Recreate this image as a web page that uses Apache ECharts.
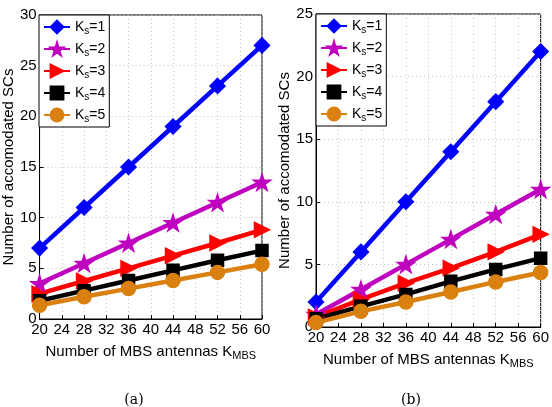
<!DOCTYPE html>
<html>
<head>
<meta charset="utf-8">
<script src="https://cdn.jsdelivr.net/npm/echarts@6/dist/echarts.min.js"></script>
<style>
  html, body { margin: 0; padding: 0; background: #fff; }
  #main { width: 552px; height: 407px; }
</style>
</head>
<body>
<div id="main"></div>
<script>
// antenna counts K_MBS
const antennas = [20, 28, 36, 44, 52, 60];
const seriesNames = ['Ks=1', 'Ks=2', 'Ks=3', 'Ks=4', 'Ks=5'];

// (a)
const aKs1 = [7, 11, 15, 19, 23, 27];
const aKs2 = [3.5, 5.5, 7.5, 9.5, 11.5, 13.5];
const aKs3 = [2.5, 3.75, 5, 6.25, 7.5, 8.8];
const aKs4 = [1.8, 2.8, 3.8, 4.8, 5.8, 6.75];
const aKs5 = [1.35, 2.2, 3, 3.8, 4.6, 5.4];

// (b)
const bKs1 = [2, 6, 10, 14, 18, 22];
const bKs2 = [1, 3, 5, 7, 9, 11];
const bKs3 = [0.8, 2.2, 3.5, 4.7, 6, 7.4];
const bKs4 = [0.65, 1.65, 2.6, 3.65, 4.6, 5.5];
const bKs5 = [0.35, 1.25, 2, 2.8, 3.6, 4.35];

const colors = ['#0000ff', '#bf00bf', '#ff0000', '#000000', '#d98010'];
const symbols = [
  'diamond',
  'path://M50,0 L61,35 L98,35 L68,57 L79,91 L50,70 L21,91 L32,57 L2,35 L39,35 Z',
  'path://M0,0 L10,5 L0,10 Z',
  'rect',
  'circle'
];
const symbolSizes = [15, 17, 15, 12, 14];

const FONT = 'Liberation Sans, Arial, sans-serif';

const makeSeries = (sets, idx) => sets.map((vals, i) => ({
  name: seriesNames[i],
  type: 'line',
  xAxisIndex: idx,
  yAxisIndex: idx,
  data: antennas.map((x, j) => [x, vals[j]]),
  symbol: symbols[i],
  symbolSize: symbolSizes[i],
  symbolKeepAspect: true,
  color: colors[i],
  lineStyle: { width: 4.5, color: colors[i] },
  itemStyle: { color: colors[i], borderColor: colors[i], borderWidth: 1.5 },
  emphasis: { disabled: true },
  animation: false
}));

const legendRich = {
  k: { fontSize: 14, fontFamily: FONT, color: '#000', lineHeight: 18 },
  s: { fontSize: 10, fontFamily: FONT, color: '#000', lineHeight: 18, padding: [8, 0, 0, 0] },
  v: { fontSize: 14, fontFamily: FONT, color: '#000', lineHeight: 18 }
};

const makeLegend = (left, top) => ({
  data: seriesNames,
  orient: 'vertical',
  left: left,
  top: top,
  backgroundColor: '#fff',
  borderColor: '#000',
  borderWidth: 1,
  borderRadius: 0,
  padding: [3, 4, 3, 4],
  itemWidth: 26,
  itemHeight: 16,
  itemGap: 4,
  selectedMode: false,
  formatter: name => `{k|K}{s|s}{v|${name.slice(2)}}`,
  textStyle: { rich: legendRich }
});

const gridLine = { show: true, lineStyle: { color: '#c4c4c4', type: [1, 3], width: 1 } };

const xAxisOf = (idx) => ({
  type: 'value',
  gridIndex: idx,
  min: 20,
  max: 60,
  interval: 4,
  name: '{a|Number of MBS antennas K}{b|MBS}',
  nameLocation: 'middle',
  nameGap: 17,
  nameTextStyle: {
    rich: {
      a: { fontSize: 15, fontFamily: FONT, color: '#000', lineHeight: 18 },
      b: { fontSize: 11, fontFamily: FONT, color: '#000', lineHeight: 18, padding: [9, 0, 0, 0] }
    }
  },
  axisLine: { lineStyle: { color: '#000', width: 1 } },
  axisTick: { inside: true, length: 4, lineStyle: { color: '#000' } },
  axisLabel: { fontSize: 15, fontFamily: FONT, color: '#000', margin: 3 },
  splitLine: gridLine
});

const yAxisOf = (idx, max) => ({
  type: 'value',
  gridIndex: idx,
  min: 0,
  max: max,
  interval: 5,
  name: 'Number of accomodated SCs',
  nameLocation: 'middle',
  nameGap: 21,
  nameTextStyle: { fontSize: 15, fontFamily: FONT, color: '#000' },
  axisLine: { show: true, lineStyle: { color: '#000', width: 1 } },
  axisTick: { show: true, inside: true, length: 4, lineStyle: { color: '#000' } },
  axisLabel: { fontSize: 15, fontFamily: FONT, color: '#000', margin: 3 },
  splitLine: gridLine
});

const chart = echarts.init(document.getElementById('main'));
chart.setOption({
  backgroundColor: '#fff',
  animation: false,
  grid: [
    { left: 39, top: 15, width: 223, height: 304, show: true, borderColor: '#000', borderWidth: 1, containLabel: false },
    { left: 316, top: 14, width: 227, height: 313, show: true, borderColor: '#000', borderWidth: 1, containLabel: false }
  ],
  legend: [makeLegend(39, 15), makeLegend(316, 14)],
  xAxis: [xAxisOf(0), xAxisOf(1)],
  yAxis: [yAxisOf(0, 30), yAxisOf(1, 25)],
  series: [
    ...makeSeries([aKs1, aKs2, aKs3, aKs4, aKs5], 0),
    ...makeSeries([bKs1, bKs2, bKs3, bKs4, bKs5], 1)
  ],
  graphic: [
    { type: 'text', x: 134, y: 400, style: { text: '(a)', font: '14px "DejaVu Serif", "Liberation Serif", serif', fill: '#000', textAlign: 'center', textVerticalAlign: 'middle' } },
    { type: 'text', x: 411, y: 400, style: { text: '(b)', font: '14px "DejaVu Serif", "Liberation Serif", serif', fill: '#000', textAlign: 'center', textVerticalAlign: 'middle' } }
  ]
});
</script>
</body>
</html>
